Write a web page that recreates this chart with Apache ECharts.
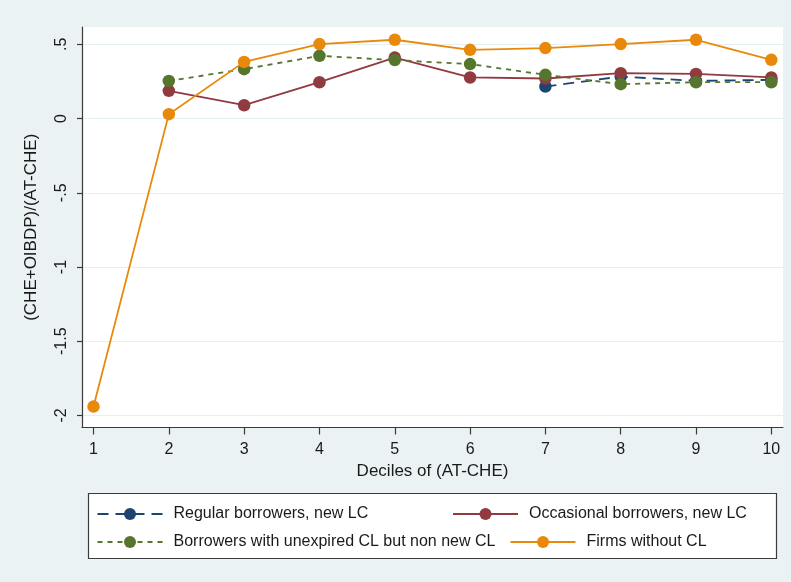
<!DOCTYPE html>
<html>
<head>
<meta charset="utf-8">
<script src="https://cdn.jsdelivr.net/npm/echarts@6/dist/echarts.min.js"></script>
<style>
  html, body { margin: 0; padding: 0; background: #eaf2f3; }
  #chart { width: 791px; height: 582px; }
</style>
</head>
<body>
<div id="chart"></div>
<script>
// Deciles of (AT-CHE) on the x axis
const deciles = [1, 2, 3, 4, 5, 6, 7, 8, 9, 10];
const yTicks = [-2, -1.5, -1, -0.5, 0, 0.5];

// Mean (CHE+OIBDP)/(AT-CHE) by decile; null where a group has no observation
const regularNewLC    = [null, null, null, null, null, null, 0.216, 0.283, 0.254, 0.261];
const occasionalNewLC = [null, 0.187, 0.090, 0.245, 0.411, 0.277, 0.270, 0.306, 0.301, 0.277];
const unexpiredCL     = [null, 0.254, 0.333, 0.423, 0.394, 0.367, 0.295, 0.232, 0.245, 0.245];
const withoutCL       = [-1.94, 0.030, 0.382, 0.502, 0.531, 0.463, 0.475, 0.502, 0.531, 0.396];

const names = [
  'Regular borrowers, new LC',
  'Occasional borrowers, new LC',
  'Borrowers with unexpired CL but non new CL',
  'Firms without CL'
];

const FONT = '"Liberation Sans", Arial, sans-serif';
const INK = '#1a1a1a';

function pairs(values) {
  return deciles.map((d, i) => [d, values[i]]);
}

function lineSeries(name, values, color, dash, z) {
  return {
    name: name,
    type: 'line',
    data: pairs(values),
    connectNulls: false,
    symbol: 'circle',
    symbolSize: 12.5,
    showSymbol: true,
    z: z,
    itemStyle: { color: color, borderWidth: 0 },
    lineStyle: { color: color, width: 1.8, type: dash },
    emphasis: { disabled: true },
    animation: false
  };
}

function legendAt(name, left, top) {
  return {
    data: [name],
    left: left,
    top: top,
    padding: 0,
    itemWidth: 65,
    itemHeight: 15,
    selectedMode: false,
    textStyle: { fontFamily: FONT, fontSize: 16, color: INK, padding: [0, 0, 0, 6] }
  };
}

const chart = echarts.init(document.getElementById('chart'), null, { renderer: 'canvas' });

chart.setOption({
  backgroundColor: '#eaf2f3',
  animation: false,
  grid: {
    left: 82, right: 8, top: 27, bottom: 154.5,
    show: true, backgroundColor: '#ffffff', borderWidth: 0
  },
  xAxis: {
    type: 'value',
    min: 0.847, max: 10.155,
    name: 'Deciles of (AT-CHE)',
    nameLocation: 'middle',
    nameGap: 32,
    nameTextStyle: { fontFamily: FONT, fontSize: 17, color: INK },
    axisLine: { show: true, onZero: false, lineStyle: { color: '#3a3a3a', width: 1.2 } },
    axisTick: { show: true, length: 7, customValues: deciles, lineStyle: { color: '#3a3a3a', width: 1.2 } },
    axisLabel: { customValues: deciles, margin: 14, fontFamily: FONT, fontSize: 16, color: INK },
    splitLine: { show: false }
  },
  yAxis: {
    type: 'value',
    min: -2.081, max: 0.617,
    name: '(CHE+OIBDP)/(AT-CHE)',
    nameLocation: 'middle',
    nameGap: 42,
    nameRotate: 90,
    nameTextStyle: { fontFamily: FONT, fontSize: 17, color: INK },
    axisLine: { show: true, onZero: false, lineStyle: { color: '#3a3a3a', width: 1.2 } },
    axisTick: { show: true, length: 5, customValues: yTicks, lineStyle: { color: '#3a3a3a', width: 1.2 } },
    axisLabel: {
      customValues: yTicks,
      rotate: 90,
      margin: 12,
      fontFamily: FONT, fontSize: 16, color: INK,
      formatter: v => String(v).replace('0.', '.')
    },
    splitLine: { show: true, lineStyle: { color: '#e6eff1', width: 1.2 } }
  },
  graphic: [{
    type: 'rect',
    shape: { x: 88.5, y: 493.5, width: 688, height: 65 },
    style: { fill: '#ffffff', stroke: '#3c3c3c', lineWidth: 1.2 },
    z: 0
  }],
  legend: [
    legendAt(names[0], 96.5, 506),
    legendAt(names[1], 452, 506),
    legendAt(names[2], 96.5, 534),
    legendAt(names[3], 509.5, 534)
  ],
  series: [
    lineSeries(names[0], regularNewLC, '#1c4670', [11, 7], 2),
    lineSeries(names[1], occasionalNewLC, '#913a40', 'solid', 3),
    lineSeries(names[2], unexpiredCL, '#56762e', [5, 5], 4),
    lineSeries(names[3], withoutCL, '#e8890c', 'solid', 5)
  ]
});
</script>
</body>
</html>
